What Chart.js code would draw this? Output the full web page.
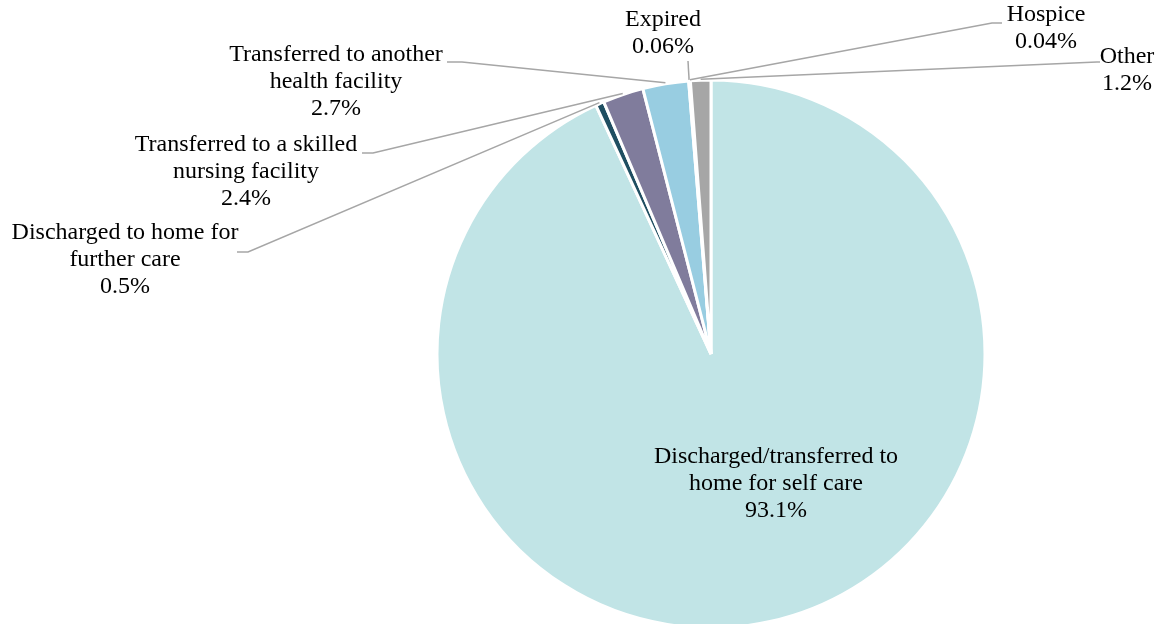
<!DOCTYPE html>
<html>
<head>
<meta charset="utf-8">
<script src="https://cdn.jsdelivr.net/npm/chart.js@4"></script>
<style>
  html, body { margin: 0; padding: 0; background: #fff; overflow: hidden; }
</style>
</head>
<body>
<canvas id="pieChart" width="1157" height="624"></canvas>
<script>
// data
const categories = [
  ['Discharged/transferred to', 'home for self care'],
  ['Discharged to home for', 'further care'],
  ['Transferred to a skilled', 'nursing facility'],
  ['Transferred to another', 'health facility'],
  ['Expired'],
  ['Hospice'],
  ['Other']
];
const shares = [93.1, 0.5, 2.4, 2.7, 0.06, 0.04, 1.2];
const sliceColors = ['#c1e4e6', '#1f4e61', '#807c9c', '#98cde1', '#4f81bd', '#9bbb59', '#a6a6a6'];

// label layout: text centre x, first line centre y, and the leader elbows
const labelPos = [[776, 457], [125, 233], [246, 145], [336, 55], [663, 20], [1046, 15], [1127, 57]];
const leaderPts = [
  [],
  [[248, 252], [237, 252]],
  [[373, 153], [362, 153]],
  [[462, 62], [447, 62]],
  [[688, 61]],
  [[992, 23], [1002, 23]],
  [[1097, 62], [1100, 62]]
];

const labelFont = '24px "Liberation Serif", "Times New Roman", serif';
const lineH = 27;

const labelPlugin = {
  id: 'sliceLabels',
  afterDatasetsDraw(chart) {
    const ctx = chart.ctx;
    const arcs = chart.getDatasetMeta(0).data;
    ctx.save();
    // leader lines
    ctx.strokeStyle = '#a6a6a6';
    ctx.lineWidth = 1.5;
    arcs.forEach((arc, i) => {
      const pts = leaderPts[i];
      if (!pts.length) return;
      const p = arc.getProps(['x', 'y', 'startAngle', 'endAngle', 'outerRadius'], true);
      const mid = (p.startAngle + p.endAngle) / 2;
      const r = p.outerRadius + 1;
      ctx.beginPath();
      ctx.moveTo(p.x + Math.cos(mid) * r, p.y + Math.sin(mid) * r);
      pts.forEach(pt => ctx.lineTo(pt[0], pt[1]));
      ctx.stroke();
    });
    // text
    ctx.font = labelFont;
    ctx.fillStyle = '#000';
    ctx.textAlign = 'center';
    ctx.textBaseline = 'middle';
    categories.forEach((lines, i) => {
      const all = lines.concat([shares[i] + '%']);
      all.forEach((t, k) => {
        ctx.fillText(t, labelPos[i][0], labelPos[i][1] + k * lineH);
      });
    });
    ctx.restore();
  }
};

new Chart(document.getElementById('pieChart'), {
  type: 'pie',
  data: {
    labels: categories.map(c => c.join(' ')),
    datasets: [{
      data: shares,
      backgroundColor: sliceColors,
      borderColor: '#ffffff',
      borderWidth: 3,
      radius: 274
    }]
  },
  options: {
    responsive: false,
    animation: false,
    layout: { padding: { top: 84, bottom: 0, left: 265, right: 0 } },
    plugins: {
      legend: { display: false },
      tooltip: { enabled: false },
      title: { display: false }
    }
  },
  plugins: [labelPlugin]
});
</script>
</body>
</html>
